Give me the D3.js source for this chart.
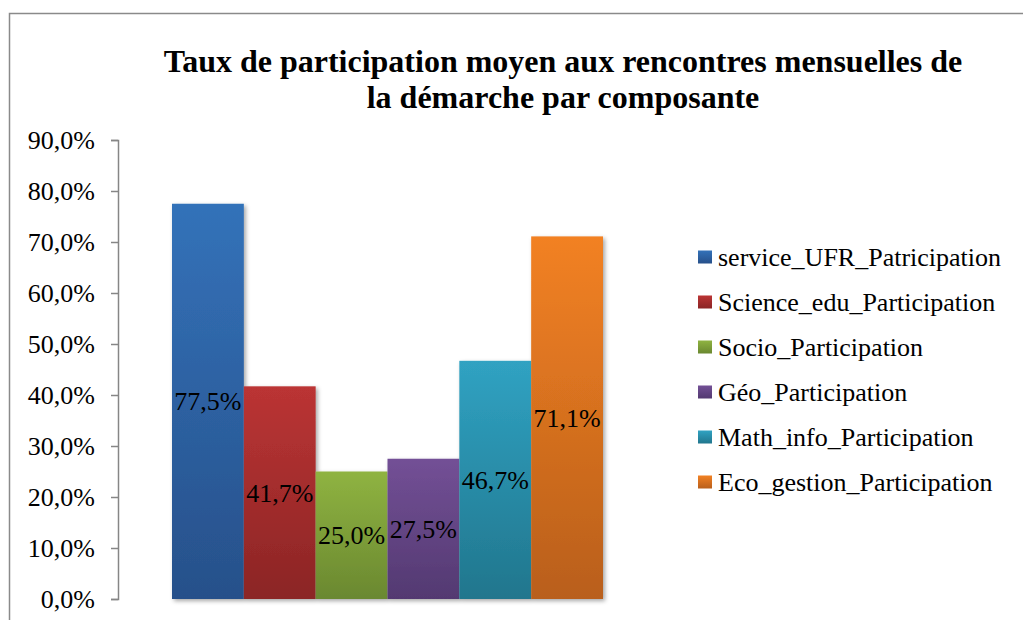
<!DOCTYPE html>
<html>
<head>
<meta charset="utf-8">
<script src="https://cdn.jsdelivr.net/npm/d3@7"></script>
<style>
  body { margin: 0; background: #fff; }
  svg { display: block; font-family: "Liberation Serif", "Times New Roman", serif; }
</style>
</head>
<body>
<svg id="chart" width="1023" height="620"></svg>
<script>
// data
const categories = ["service_UFR_Patricipation", "Science_edu_Participation", "Socio_Participation",
                    "Géo_Participation", "Math_info_Participation", "Eco_gestion_Participation"];
const values = [0.775, 0.417, 0.25, 0.275, 0.467, 0.711];
const yTicks = [0, 0.1, 0.2, 0.3, 0.4, 0.5, 0.6, 0.7, 0.8, 0.9];
const titleLines = ["Taux de participation moyen aux rencontres mensuelles de",
                    "la démarche par composante"];
// top / bottom colour of each bar gradient
const topColors = ["#3372b9", "#bb3434", "#8fb341", "#735096", "#30a2c2", "#f28123"];
const bottomColors = ["#27508a", "#8b2525", "#6a8830", "#533971", "#21768d", "#b95f1b"];

const svg = d3.select("#chart");
const fr = d3.formatLocale({decimal: ",", thousands: " ", grouping: [3], currency: ["", " €"]});
const pct = fr.format(".1%");

// frame, open on right & bottom like the crop
svg.append("rect")
  .attr("x", 9.5).attr("y", 13.5)
  .attr("width", 1100).attr("height", 700)
  .attr("fill", "none").attr("stroke", "#8a8a8a").attr("stroke-width", 1.5);

const defs = svg.append("defs");
categories.forEach((c, i) => {
  const g = defs.append("linearGradient")
    .attr("id", "grad" + i)
    .attr("x1", 0).attr("y1", 0).attr("x2", 0).attr("y2", 1);
  g.append("stop").attr("offset", "0%").attr("stop-color", topColors[i]);
  g.append("stop").attr("offset", "100%").attr("stop-color", bottomColors[i]);
});
const shadow = defs.append("filter").attr("id", "shadow")
  .attr("x", "-10%").attr("y", "-10%").attr("width", "130%").attr("height", "130%");
shadow.append("feDropShadow")
  .attr("dx", 2).attr("dy", 2).attr("stdDeviation", 2)
  .attr("flood-color", "#000").attr("flood-opacity", 0.35);

// title
svg.append("text")
  .attr("x", 563).attr("y", 72)
  .attr("text-anchor", "middle")
  .attr("font-size", 32).attr("font-weight", "bold")
  .selectAll("tspan").data(titleLines).join("tspan")
  .attr("x", 563)
  .attr("dy", (d, i) => i ? 36 : 0)
  .text(d => d);

const x = d3.scaleBand().domain(categories).range([172, 603]).paddingInner(0).paddingOuter(0);
const y = d3.scaleLinear().domain([0, 0.9]).range([599, 140]);

// y axis
const yAxis = svg.append("g")
  .attr("transform", "translate(118,0)")
  .call(d3.axisLeft(y).tickValues(yTicks).tickFormat(pct).tickSize(7).tickPadding(16));
yAxis.select(".domain").attr("stroke", "#868686").attr("stroke-width", 1.5);
yAxis.selectAll(".tick line").attr("stroke", "#868686").attr("stroke-width", 1.5);
yAxis.selectAll(".tick text")
  .attr("font-family", "\"Liberation Serif\", \"Times New Roman\", serif")
  .attr("font-size", 26).attr("fill", "#000");

// bars
svg.append("g").attr("filter", "url(#shadow)")
  .selectAll("rect").data(values).join("rect")
  .attr("x", (d, i) => x(categories[i]))
  .attr("width", x.bandwidth())
  .attr("y", d => y(d))
  .attr("height", d => y(0) - y(d))
  .attr("fill", (d, i) => "url(#grad" + i + ")");

// value labels, centred in the bars
svg.append("g")
  .selectAll("text").data(values).join("text")
  .attr("x", (d, i) => x(categories[i]) + x.bandwidth() / 2)
  .attr("y", d => (y(d) + y(0)) / 2)
  .attr("dy", "0.35em")
  .attr("text-anchor", "middle")
  .attr("font-size", 26)
  .text(d => pct(d));

// legend
const legend = svg.append("g").attr("transform", "translate(698,257)");
const row = legend.selectAll("g").data(categories).join("g")
  .attr("transform", (d, i) => "translate(0," + i * 45 + ")");
row.append("rect")
  .attr("x", 0).attr("y", -6.5)
  .attr("width", 14).attr("height", 13)
  .attr("fill", (d, i) => "url(#grad" + i + ")");
row.append("text")
  .attr("x", 20).attr("dy", "0.33em")
  .attr("font-size", 26)
  .text(d => d);
</script>
</body>
</html>
